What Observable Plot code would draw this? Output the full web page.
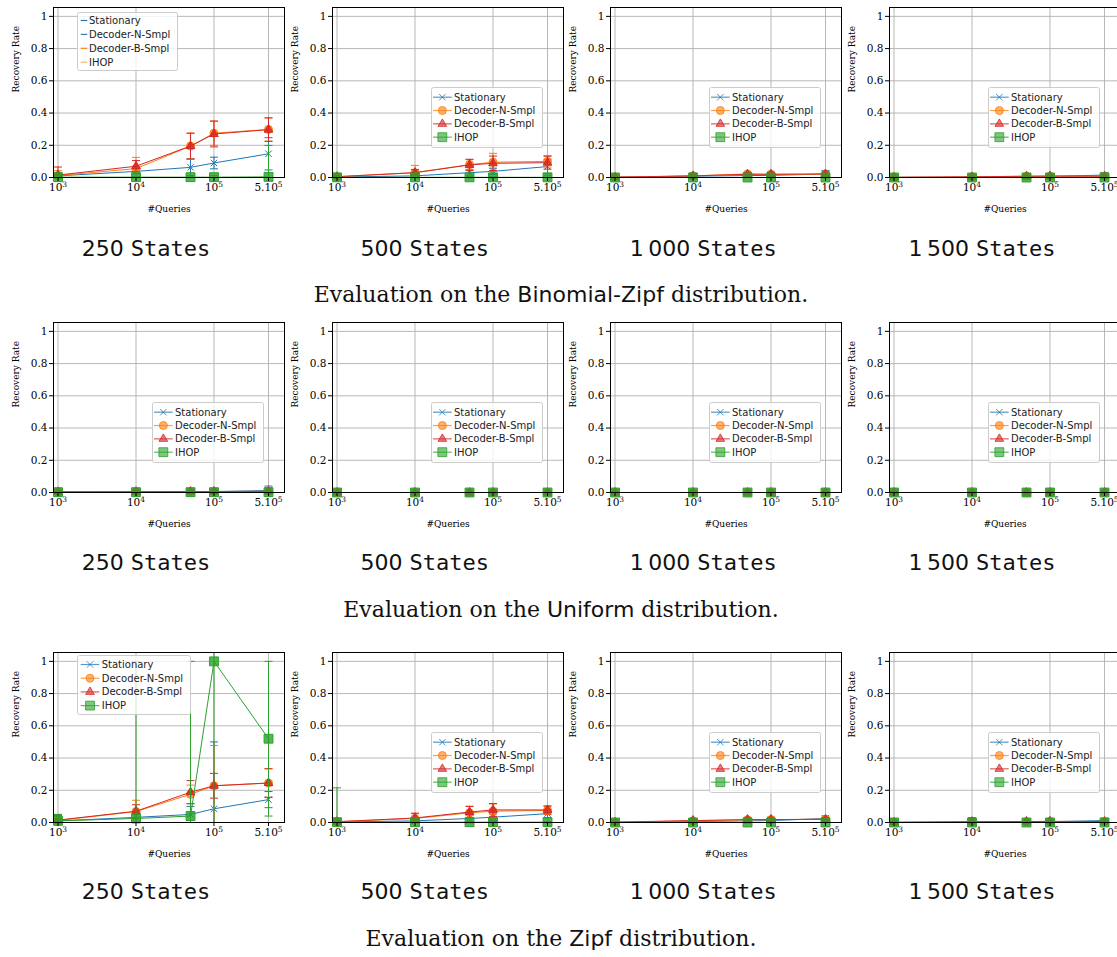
<!DOCTYPE html>
<html><head><meta charset="utf-8">
<script src="https://cdn.jsdelivr.net/npm/d3@7"></script>
<script src="https://cdn.jsdelivr.net/npm/@observablehq/plot@0.6"></script>
<style>
html,body{margin:0;padding:0;background:#fff;overflow:hidden;width:1117px;height:957px;}
#root{position:relative;width:1117px;height:957px;overflow:hidden;background:#fff;}
.panel{position:absolute;}
.panel svg{overflow:visible;background:transparent;max-width:none;}
.lbl{position:absolute;transform:translate(-50%,-50%);white-space:nowrap;line-height:1;color:#111;}
.st{font-family:"DejaVu Sans";font-size:22px;}
.st .mono{font-family:"DejaVu Sans Mono";}
.cap{font-family:"DejaVu Serif";font-size:22px;}
.cap .sf{font-family:"DejaVu Sans";}
.legend{position:absolute;}
</style></head>
<body><div id="root"></div>
<script>
// ---- data ----
const queries = [1e3, 1e4, 5e4, 1e5, 5e5];
const queryTicks = [1e3, 1e4, 1e5, 5e5];
const queryTickLabels = ["10³", "10⁴", "10⁵", "5.10⁵"];
const rateTicks = [0, 0.2, 0.4, 0.6, 0.8, 1];
const rateTickLabels = ["0.0", "0.2", "0.4", "0.6", "0.8", "1"];
const stateLabels = ["250", "500", "1\u2009000", "1\u2009500"];
const seriesNames = ["Stationary", "Decoder-N-Smpl", "Decoder-B-Smpl", "IHOP"];
const distributionNames = ["Binomial-Zipf", "Uniform", "Zipf"];

// mean recovery rate [states][series][query]
const binomialZipfMean = [
  [[0.010, 0.038, 0.063, 0.090, 0.147], [0.012, 0.055, 0.195, 0.275, 0.298], [0.015, 0.070, 0.195, 0.270, 0.297], [0.002, 0.002, 0.002, 0.002, 0.004]],
  [[0.003, 0.010, 0.030, 0.038, 0.068], [0.005, 0.030, 0.080, 0.095, 0.100], [0.005, 0.030, 0.078, 0.088, 0.092], [0.001, 0.001, 0.001, 0.001, 0.001]],
  [[0.002, 0.008, 0.012, 0.013, 0.022], [0.002, 0.010, 0.022, 0.020, 0.020], [0.002, 0.010, 0.020, 0.020, 0.022], [0, 0, 0, 0, 0]],
  [[0.001, 0.003, 0.006, 0.007, 0.015], [0.001, 0.004, 0.008, 0.008, 0.008], [0.001, 0.004, 0.008, 0.009, 0.008], [0, 0, 0, 0, 0]]
];
const binomialZipfErr = [
  [[0.010, 0.015, 0.052, 0.036, 0.100], [0.030, 0.070, 0.080, 0.075, 0.072], [0.050, 0.035, 0.080, 0.080, 0.073], [0.005, 0.005, 0.010, 0.010, 0.195]],
  [[0.003, 0.010, 0.020, 0.020, 0.045], [0.005, 0.045, 0.030, 0.055, 0.035], [0.005, 0.020, 0.035, 0.045, 0.040], [0.002, 0.002, 0.003, 0.003, 0.010]],
  [[0.002, 0.020, 0.010, 0.020, 0.022], [0.002, 0.008, 0.012, 0.012, 0.012], [0.002, 0.008, 0.010, 0.012, 0.012], [0, 0, 0, 0, 0]],
  [[0.001, 0.004, 0.006, 0.006, 0.015], [0.001, 0.004, 0.006, 0.006, 0.006], [0.001, 0.004, 0.006, 0.008, 0.006], [0, 0, 0, 0, 0]]
];
const uniformMean = [
  [[0.003, 0.004, 0.005, 0.006, 0.012], [0.004, 0.005, 0.006, 0.006, 0.007], [0.004, 0.005, 0.006, 0.006, 0.007], [0.002, 0.002, 0.002, 0.002, 0.002]],
  [[0, 0, 0, 0, 0], [0, 0, 0, 0, 0], [0, 0, 0, 0, 0], [0, 0, 0, 0, 0]],
  [[0, 0, 0, 0, 0], [0, 0, 0, 0, 0], [0, 0, 0, 0, 0], [0, 0, 0, 0, 0]],
  [[0, 0, 0, 0, 0], [0, 0, 0, 0, 0], [0, 0, 0, 0, 0], [0, 0, 0, 0, 0]]
];
const uniformErr = [
  [[0.003, 0.004, 0.005, 0.006, 0.028], [0.003, 0.004, 0.004, 0.004, 0.005], [0.003, 0.004, 0.004, 0.004, 0.005], [0.002, 0.002, 0.002, 0.002, 0.002]],
  [[0, 0, 0, 0, 0], [0, 0, 0, 0, 0], [0, 0, 0, 0, 0], [0, 0, 0, 0, 0]],
  [[0, 0, 0, 0, 0], [0, 0, 0, 0, 0], [0, 0, 0, 0, 0], [0, 0, 0, 0, 0]],
  [[0, 0, 0, 0, 0], [0, 0, 0, 0, 0], [0, 0, 0, 0, 0], [0, 0, 0, 0, 0]]
];
const zipfMean = [
  [[0.010, 0.032, 0.050, 0.085, 0.142], [0.012, 0.068, 0.175, 0.228, 0.245], [0.015, 0.070, 0.188, 0.228, 0.245], [0.010, 0.025, 0.040, 1.000, 0.520]],
  [[0.003, 0.010, 0.025, 0.033, 0.055], [0.005, 0.025, 0.060, 0.070, 0.075], [0.005, 0.028, 0.065, 0.078, 0.078], [0.002, 0.002, 0.002, 0.002, 0.002]],
  [[0.001, 0.006, 0.010, 0.012, 0.025], [0.002, 0.010, 0.017, 0.018, 0.020], [0.002, 0.012, 0.018, 0.018, 0.020], [0, 0, 0, 0, 0]],
  [[0.001, 0.003, 0.004, 0.005, 0.012], [0.001, 0.004, 0.005, 0.006, 0.006], [0.001, 0.005, 0.006, 0.007, 0.006], [0, 0, 0, 0, 0]]
];
const zipfErr = [
  [[0.040, 0.030, 0.050, 0.415, 0.050], [0.030, 0.070, 0.057, 0.250, 0.090], [0.030, 0.040, 0.072, 0.077, 0.088], [0.040, 0.975, 0.960, 1.000, 0.480]],
  [[0.003, 0.010, 0.020, 0.020, 0.025], [0.005, 0.030, 0.040, 0.045, 0.025], [0.005, 0.030, 0.035, 0.040, 0.025], [0.213, 0.003, 0.003, 0.003, 0.003]],
  [[0.001, 0.006, 0.010, 0.010, 0.015], [0.002, 0.008, 0.010, 0.015, 0.010], [0.002, 0.008, 0.010, 0.010, 0.010], [0, 0, 0, 0, 0]],
  [[0.001, 0.010, 0.004, 0.005, 0.008], [0.001, 0.005, 0.005, 0.005, 0.005], [0.001, 0.025, 0.005, 0.005, 0.005], [0, 0, 0, 0, 0]]
];

// ---- styling ----
const colors = ["#1f77b4", "#ff7f0e", "#d62728", "#2ca02c"];
const symbolNames = ["times", "circle", "triangle", "square"];
const d3Symbols = [d3.symbolTimes, d3.symbolCircle, d3.symbolTriangle, d3.symbolSquare];
const markerR = [3, 4, 3.2, 5];
const yMax = 1.055;
const capSymbol = {draw(ctx, size) { const r = Math.sqrt(size / Math.PI); ctx.moveTo(-r, 0); ctx.lineTo(r, 0); }};

const frameW = 231, frameH = 170, mL = 53, mT = 7, mB = 42, mR = 6;
const frameLefts = [53, 331.7, 610.3, 889];
const frameTops = [7, 322, 652];
const stateLabelY = [249, 563, 892];
const captionY = [295, 610, 939];
const root = document.getElementById("root");

function makePanel(means, errs) {
  const marks = [
    Plot.ruleX(queryTicks, {x: d => d, stroke: "#b0b0b0", strokeWidth: 0.9}),
    Plot.ruleY(rateTicks, {y: d => d, stroke: "#b0b0b0", strokeWidth: 0.9})
  ];
  for (let s = 0; s < 4; s++) {
    const data = queries.map((q, k) => ({q, y: means[s][k], e: errs[s][k]}));
    const caps = data.flatMap(d => [{q: d.q, y: d.y - d.e}, {q: d.q, y: d.y + d.e}])
      .filter(c => c.y >= -0.002 && c.y <= yMax);
    marks.push(
      Plot.ruleX(data, {x: "q", y1: d => Math.max(0, d.y - d.e), y2: d => Math.min(yMax, d.y + d.e), stroke: colors[s], strokeWidth: 1}),
      Plot.dot(caps, {x: "q", y: "y", symbol: capSymbol, r: 4, stroke: colors[s], fill: "none", strokeWidth: 1}),
      Plot.line(data, {x: "q", y: "y", stroke: colors[s], strokeWidth: 1}),
      Plot.dot(data, {x: "q", y: "y", symbol: symbolNames[s], r: markerR[s], fill: s === 0 ? "none" : colors[s], stroke: colors[s], fillOpacity: 0.8, strokeWidth: 1})
    );
  }
  marks.push(
    Plot.frame({stroke: "black", strokeWidth: 1}),
    Plot.axisX({ticks: queryTicks, tickFormat: () => "", tickSize: 4, label: null}),
    Plot.text(queryTicks, {x: d => d, text: (d, i) => queryTickLabels[i], frameAnchor: "bottom", lineAnchor: "top", dy: 6, fontSize: 10.5}),
    Plot.axisY({ticks: rateTicks, tickFormat: d => rateTickLabels[rateTicks.indexOf(d)], tickSize: 4, tickPadding: 2, label: null, fontSize: 10.5}),
    Plot.text(["#Queries"], {frameAnchor: "bottom", lineAnchor: "middle", dy: 32, fontSize: 9}),
    Plot.text(["Recovery Rate"], {frameAnchor: "left", lineAnchor: "middle", rotate: -90, dx: -37, fontSize: 9})
  );
  return Plot.plot({
    width: mL + frameW + mR, height: mT + frameH + mB,
    marginLeft: mL, marginRight: mR, marginTop: mT, marginBottom: mB,
    x: {type: "log", domain: [10 ** 2.942, 10 ** 5.904], axis: null},
    y: {domain: [0, yMax], axis: null},
    style: {fontFamily: "DejaVu Serif", fontSize: "10px", background: "transparent", overflow: "visible", color: "black"},
    marks
  });
}

// turn unicode superscript digits into real raised tspans
const supMap = {"⁰": "0", "¹": "1", "²": "2", "³": "3", "⁴": "4", "⁵": "5", "⁶": "6", "⁷": "7", "⁸": "8", "⁹": "9"};
function raiseSuperscripts(svg) {
  svg.querySelectorAll("text").forEach(t => {
    const s = t.textContent;
    const m = s.match(/^(.*?)([⁰¹²³⁴⁵⁶⁷⁸⁹]+)$/);
    if (!m) return;
    while (t.firstChild) t.removeChild(t.firstChild);
    const a = document.createElementNS("http://www.w3.org/2000/svg", "tspan");
    a.textContent = m[1];
    const b = document.createElementNS("http://www.w3.org/2000/svg", "tspan");
    b.textContent = m[2].split("").map(c => supMap[c]).join("");
    b.setAttribute("font-size", "7.5");
    b.setAttribute("dy", "-4");
    t.appendChild(a); t.appendChild(b);
  });
}

function makeLegend(kind, left, top) {
  const g = {
    plain: {w: 100, h: 58, y0: 8, dy: 13.9, x1: 3.7, x2: 10.3, tx: 12},
    upper: {w: 113, h: 59, y0: 9, dy: 13.7, x1: 3.7, x2: 22.3, tx: 24.7},
    normal: {w: 111, h: 60, y0: 9.7, dy: 13.33, x1: 2, x2: 20.7, tx: 23}
  }[kind];
  const svg = d3.create("svg").attr("width", g.w + 1).attr("height", g.h + 1)
    .attr("class", "legend").style("left", left + "px").style("top", top + "px").style("overflow", "visible");
  svg.append("rect").attr("x", 0.5).attr("y", 0.5).attr("width", g.w).attr("height", g.h).attr("rx", 2)
    .attr("fill", "white").attr("fill-opacity", 0.8).attr("stroke", "#cccccc");
  const plainColors = [colors[0], colors[0], colors[1], colors[1]];
  const plainOpac = [1, 0.9, 1, 0.6];
  seriesNames.forEach((name, i) => {
    const y = g.y0 + g.dy * i + 0.5;
    const c = kind === "plain" ? plainColors[i] : colors[i];
    svg.append("line").attr("x1", g.x1).attr("x2", g.x2).attr("y1", y).attr("y2", y)
      .attr("stroke", c).attr("stroke-width", 1.2).attr("stroke-opacity", kind === "plain" ? plainOpac[i] : 0.75);
    if (kind !== "plain") {
      const r = markerR[i];
      svg.append("path").attr("d", d3.symbol(d3Symbols[i], r * r * Math.PI)())
        .attr("transform", `translate(${(g.x1 + g.x2) / 2},${y})`)
        .attr("fill", i === 0 ? "none" : c).attr("fill-opacity", 0.6).attr("stroke", c).attr("stroke-opacity", 0.8);
    }
    svg.append("text").attr("x", g.tx).attr("y", y).attr("dy", "0.35em").text(name)
      .attr("font-family", "DejaVu Sans").attr("font-size", 10).attr("fill", "#222");
  });
  return svg.node();
}

const allMeans = [binomialZipfMean, uniformMean, zipfMean];
const allErrs = [binomialZipfErr, uniformErr, zipfErr];

for (let r = 0; r < 3; r++) {
  for (let c = 0; c < 4; c++) {
    const div = document.createElement("div");
    div.className = "panel";
    div.style.left = (frameLefts[c] - mL) + "px";
    div.style.top = (frameTops[r] - mT) + "px";
    const chart = makePanel(allMeans[r][c], allErrs[r][c]);
    raiseSuperscripts(chart);
    div.appendChild(chart);
    root.appendChild(div);
    let kind = "normal", lx = frameLefts[c] + 99, ly = frameTops[r] + 80;
    if (r === 0 && c === 0) { kind = "plain"; lx = frameLefts[c] + 24; ly = frameTops[r] + 5; }
    if (r === 2 && c === 0) { kind = "upper"; lx = frameLefts[c] + 24; ly = frameTops[r] + 3; }
    root.appendChild(makeLegend(kind, lx, ly));

    const lab = document.createElement("div");
    lab.className = "lbl st";
    lab.style.left = (frameLefts[c] + 93) + "px";
    lab.style.top = stateLabelY[r] + "px";
    lab.innerHTML = `${stateLabels[c]} <span class="mono">States</span>`;
    root.appendChild(lab);
  }
  const cap = document.createElement("div");
  cap.className = "lbl cap";
  cap.style.left = "561px";
  cap.style.top = captionY[r] + "px";
  cap.innerHTML = `Evaluation on the <span class="sf">${distributionNames[r]}</span> distribution.`;
  root.appendChild(cap);
}
</script>
</body></html>
